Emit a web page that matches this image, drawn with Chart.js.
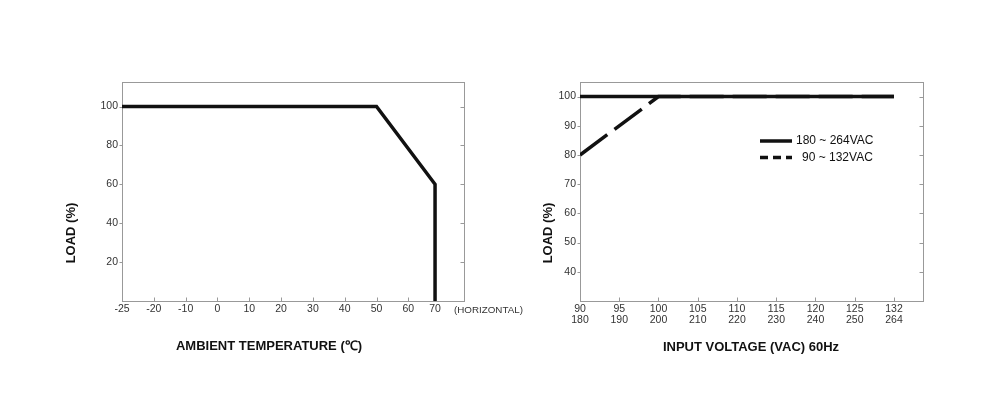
<!DOCTYPE html>
<html lang="en">
<head>
<meta charset="UTF-8">
<title>Derating curves</title>
<script src="https://cdn.jsdelivr.net/npm/chart.js"></script>
<style>
  body { margin: 0; background: #fff; }
  #wrap { position: relative; width: 1000px; height: 404px; }
  .box { position: absolute; top: 0; height: 404px; }
  #left { left: 0; width: 540px; }
  #right { left: 500px; width: 500px; }
</style>
</head>
<body>
<div id="wrap">
  <div class="box" id="left"><canvas id="tempChart"></canvas></div>
  <div class="box" id="right"><canvas id="voltChart"></canvas></div>
</div>
<script>
// ambient temperature derating
const tempTicks = [-25, -20, -10, 0, 10, 20, 30, 40, 50, 60, 70];
const tempPoints = [-25, 50, 70, 70];
const tempLoad = [100, 100, 60, 0];
const tempLoadTicks = [20, 40, 60, 80, 100];

// input voltage derating
const voltLowTicks = [90, 95, 100, 105, 110, 115, 120, 125, 132];
const voltHighTicks = [180, 190, 200, 210, 220, 230, 240, 250, 264];
const highRangeVolt = [180, 264];
const highRangeLoad = [100, 100];
const lowRangeVolt = [90, 100, 132];
const lowRangeLoad = [80, 100, 100];
const voltLoadTicks = [40, 50, 60, 70, 80, 90, 100];

// slot of each temperature tick along the axis (the printed axis is not to scale)
const tempSlots = [0, 1, 2, 3, 4, 5, 6, 7, 8, 9, 9.84];

const FONT = '"Liberation Sans", Arial, sans-serif';
const INK = '#111';

const framePlugin = {
  id: 'frame',
  beforeDatasetsDraw(chart) {
    const { ctx, chartArea: a, scales } = chart;
    ctx.save();
    ctx.strokeStyle = '#999';
    ctx.lineWidth = 1;
    const l = Math.round(a.left) + 0.5, r = Math.round(a.right) + 0.5;
    const t = Math.round(a.top) + 0.5, b = Math.round(a.bottom) + 0.5;
    ctx.strokeRect(l, t, r - l, b - t);
    ctx.beginPath();
    scales.y.ticks.forEach(tk => {
      const y = Math.round(scales.y.getPixelForValue(tk.value)) + 0.5;
      ctx.moveTo(l, y); ctx.lineTo(l - 3, y);
      ctx.moveTo(r, y); ctx.lineTo(r - 4, y);
    });
    scales.x.ticks.forEach(tk => {
      const x = Math.round(scales.x.getPixelForValue(tk.value)) + 0.5;
      ctx.moveTo(x, b); ctx.lineTo(x, b - 4);
    });
    ctx.stroke();
    ctx.restore();
  },
  afterDraw(chart, args, opts) {
    const ctx = chart.ctx;
    (opts.texts || []).forEach(tx => {
      ctx.save();
      ctx.translate(tx.x, tx.y);
      if (tx.rotate) ctx.rotate(tx.rotate);
      ctx.font = tx.font;
      ctx.fillStyle = tx.color || INK;
      ctx.textAlign = tx.align || 'center';
      ctx.textBaseline = 'middle';
      ctx.fillText(tx.text, 0, 0);
      ctx.restore();
    });
    if (opts.legend) {
      const lg = opts.legend;
      chart.data.datasets.forEach((ds, i) => {
        const y = lg.y + i * lg.rowGap;
        ctx.save();
        ctx.strokeStyle = ds.borderColor;
        ctx.lineWidth = 3.5;
        ctx.setLineDash(lg.dashes[i]);
        ctx.beginPath();
        ctx.moveTo(lg.x, y);
        ctx.lineTo(lg.x + lg.len, y);
        ctx.stroke();
        ctx.setLineDash([]);
        ctx.font = '12px ' + FONT;
        ctx.fillStyle = INK;
        ctx.textAlign = 'left';
        ctx.textBaseline = 'middle';
        ctx.fillText(ds.label, lg.x + lg.len + lg.textGaps[i], y);
        ctx.restore();
      });
    }
  }
};

function yScale(min, max, ticks, width) {
  return {
    type: 'linear', min: min, max: max,
    grid: { display: false, drawTicks: false },
    border: { display: false },
    afterBuildTicks: s => { s.ticks = ticks.map(v => ({ value: v })); },
    afterFit: s => { s.width = width; },
    ticks: { padding: 4, color: '#333', font: { size: 10.5, family: FONT } }
  };
}

function xScale(max, positions, cb) {
  return {
    type: 'linear', min: 0, max: max,
    grid: { display: false, drawTicks: false },
    border: { display: false },
    afterBuildTicks: s => { s.ticks = positions.map(p => ({ value: p })); },
    afterFit: s => { s.height = 40; },
    ticks: {
      padding: 3, maxRotation: 0, autoSkip: false, color: '#333',
      font: { size: 10.5, family: FONT, lineHeight: 1.05 },
      callback: cb
    }
  };
}

const tempPos = t => tempSlots[tempTicks.indexOf(t)];

new Chart(document.getElementById('tempChart'), {
  type: 'line',
  data: {
    datasets: [{
      label: 'Derating',
      data: tempPoints.map((t, i) => ({ x: tempPos(t), y: tempLoad[i] })),
      borderColor: INK, borderWidth: 3.5, pointRadius: 0, tension: 0, fill: false
    }]
  },
  options: {
    responsive: true, maintainAspectRatio: false, animation: false,
    layout: { padding: { left: 0, right: 76, top: 82, bottom: 63 } },
    scales: {
      x: xScale(10.75, tempSlots, v => tempTicks[tempSlots.indexOf(v)]),
      y: yScale(0, 112.6, tempLoadTicks, 122)
    },
    plugins: {
      legend: { display: false }, tooltip: { enabled: false },
      frame: {
        texts: [
          { text: 'LOAD (%)', x: 71, y: 233, rotate: -Math.PI / 2, font: 'bold 13px ' + FONT },
          { text: 'AMBIENT TEMPERATURE (℃)', x: 269, y: 346, font: 'bold 13px ' + FONT },
          { text: '(HORIZONTAL)', x: 454, y: 310, align: 'left', color: '#333', font: '9.8px ' + FONT }
        ]
      }
    }
  },
  plugins: [framePlugin]
});

new Chart(document.getElementById('voltChart'), {
  type: 'line',
  data: {
    datasets: [{
      label: '180 ~ 264VAC',
      data: highRangeVolt.map((v, i) => ({ x: voltHighTicks.indexOf(v), y: highRangeLoad[i] })),
      borderColor: INK, borderWidth: 3.5, pointRadius: 0, tension: 0, fill: false
    }, {
      label: '90 ~ 132VAC',
      data: lowRangeVolt.map((v, i) => ({ x: voltLowTicks.indexOf(v), y: lowRangeLoad[i] })),
      borderColor: INK, borderWidth: 3.5, borderDash: [34, 9], pointRadius: 0, tension: 0, fill: false
    }]
  },
  options: {
    responsive: true, maintainAspectRatio: false, animation: false,
    layout: { padding: { left: 0, right: 77, top: 82, bottom: 63 } },
    scales: {
      x: xScale(8.74, voltLowTicks.map((v, i) => i), v => [String(voltLowTicks[v]), String(voltHighTicks[v])]),
      y: yScale(30, 105, voltLoadTicks, 80)
    },
    plugins: {
      legend: { display: false }, tooltip: { enabled: false },
      frame: {
        texts: [
          { text: 'LOAD (%)', x: 48, y: 233, rotate: -Math.PI / 2, font: 'bold 13px ' + FONT },
          { text: 'INPUT VOLTAGE (VAC) 60Hz', x: 251, y: 347, font: 'bold 13px ' + FONT }
        ],
        legend: { x: 260, y: 141, rowGap: 16.5, len: 32, dashes: [[], [8, 5]], textGaps: [4, 10] }
      }
    }
  },
  plugins: [framePlugin]
});
</script>
</body>
</html>
